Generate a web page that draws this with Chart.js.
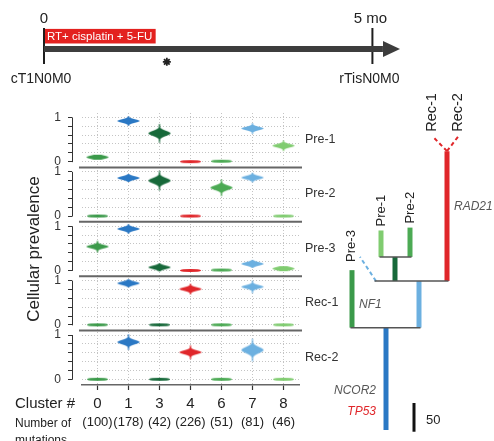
<!DOCTYPE html>
<html>
<head>
<meta charset="utf-8">
<script src="https://cdn.jsdelivr.net/npm/chart.js@4.4.1/dist/chart.umd.min.js"></script>
<style>
html,body{margin:0;padding:0;background:#ffffff;}
#wrap{position:relative;width:494px;height:441px;overflow:hidden;background:#fff;}
#wrap canvas{position:absolute;left:0;top:0;}
</style>
</head>
<body>
<div id="wrap">
<canvas id="timeline" width="494" height="441"></canvas>
<canvas id="violins" width="494" height="441"></canvas>
<canvas id="tree" width="494" height="441"></canvas>
</div>
<script>
// ================= DATA =================
const clusters = ['0', '1', '3', '4', '6', '7', '8'];
const mutationCounts = [100, 178, 42, 226, 51, 81, 46];
const samples = ['Pre-1', 'Pre-2', 'Pre-3', 'Rec-1', 'Rec-2'];
const prevPre1 = [0.10, 0.92, 0.64, 0.00, 0.01, 0.75, 0.36];
const prevPre2 = [0.00, 0.86, 0.80, 0.00, 0.64, 0.87, 0.00];
const prevPre3 = [0.54, 0.94, 0.07, 0.00, 0.01, 0.15, 0.04];
const prevRec1 = [0.00, 0.94, 0.00, 0.81, 0.00, 0.86, 0.00];
const prevRec2 = [0.00, 0.84, 0.00, 0.61, 0.00, 0.66, 0.00];
const prevalenceTicks = [0, 0.2, 0.4, 0.6, 0.8, 1];
const prevalenceTickLabels = ['0', '', '', '', '', '1'];

const timeMarks = [0, 5];                 // months
const timeMarkLabels = ['0', '5 mo'];
const stageLabels = ['cT1N0M0', 'rTisN0M0'];
const treatmentSpan = [0, 1.7];
const treatmentLabel = 'RT+ cisplatin + 5-FU';
const starTimes = [1.87];
const timelineEnd = 5.42;

// phylogeny: branch (cluster) -> parent branch; lengths = mutationCounts
const treeClusters = ['1', '0', '7', '3', '4', '8', '6'];
const treeParents  = [null, '1', '1', '7', '7', '3', '3'];
const sampleLeaves = ['Pre-1', 'Pre-2', 'Pre-3', 'Rec-1', 'Rec-2'];
const sampleLeafCluster = ['8', '6', '7', '4', '4'];
const sampleLeafDashed = [false, false, true, true, true];
const geneNames = ['RAD21', 'NF1', 'NCOR2', 'TP53'];
const geneCluster = ['4', '0', '1', '1'];
const scaleBarLength = 50;

// ================= STYLE / LAYOUT =================
const FONT = "'Liberation Sans', Arial, Helvetica, sans-serif";
Chart.defaults.font.family = FONT;
Chart.defaults.color = '#222';
const clusterColors = ['#3b9a4a', '#2a78c4', '#17693a', '#e0262a', '#4caa54', '#6cb0e0', '#80cc70'];
const violinHeights = [
  [5, 10, 19, 3, 3, 11, 11],
  [3, 8, 20, 3, 17, 10, 3],
  [12, 10, 8, 3, 3, 8, 5],
  [3, 8, 3, 11, 3, 13, 3],
  [3, 16, 3, 14, 3, 23, 3]
];
const treeColumnX = {'1': 56, '0': 22, '7': 89, '3': 65, '4': 117, '8': 51, '6': 80};
const leafLayout = {
  'Pre-1': {dx: 0, dy: -4},
  'Pre-2': {dx: 0, dy: -4},
  'Pre-3': {x0: 46, x1: 30, rise: 42, dx: -9, dy: 5, color: '#6cb0e0', size: 13},
  'Rec-1': {x0: 117, x1: 103, rise: 25, dx: -1, dy: -5, color: '#e0262a', size: 14.5},
  'Rec-2': {x0: 117, x1: 128, rise: 25, dx: 0, dy: -5, color: '#e0262a', size: 14.5}
};
const geneLayout = [
  {frac: 0.57, side: 'right', color: '#555'},
  {frac: 0.40, side: 'right', color: '#555'},
  {frac: 0.38, side: 'left', color: '#555'},
  {frac: 0.18, side: 'left', color: '#e0262a'}
];

function violinCanvas(color, H, W) {
  const c = document.createElement('canvas');
  const w = W + 2, h = Math.ceil(H) + 2;
  c.width = w; c.height = h;
  const g = c.getContext('2d');
  const cx = w / 2, cy = h / 2, half = H / 2;
  const flat = H <= 4;
  const sigma = Math.max(H / 7.5, 1.7);
  const hw = d => {
    const u = Math.abs(d) / half;
    if (flat) return (W / 2) * Math.pow(Math.max(0, 1 - u * u), 0.35);
    const body = (W / 2) * Math.exp(-0.5 * (d / sigma) * (d / sigma));
    const tail = 0.5 + 1.3 * Math.pow(Math.max(0, 1 - u), 1.5);
    return Math.max(body, tail);
  };
  const pts = [];
  for (let d = -half; d <= half + 1e-6; d += 0.25) pts.push([hw(d), d]);
  g.fillStyle = color;
  g.beginPath();
  pts.forEach(([x, d], i) => { if (i === 0) g.moveTo(cx + x, cy + d); else g.lineTo(cx + x, cy + d); });
  for (let i = pts.length - 1; i >= 0; i--) g.lineTo(cx - pts[i][0], cy + pts[i][1]);
  g.closePath();
  g.fill();
  return c;
}

// ================= TIMELINE =================
const timelinePlugin = {
  id: 'timelineDecor',
  beforeDatasetsDraw(chart) {
    const {ctx, scales: {x, y}} = chart;
    const x0 = x.getPixelForValue(treatmentSpan[0]) - 1, x1 = x.getPixelForValue(treatmentSpan[1]);
    const y0 = y.getPixelForValue(0.975), y1 = y.getPixelForValue(0.57);
    ctx.save();
    ctx.fillStyle = '#e3211f';
    ctx.fillRect(x0, y0, x1 - x0, y1 - y0);
    ctx.fillStyle = '#fff';
    ctx.font = '11.5px ' + FONT;
    ctx.textBaseline = 'middle';
    ctx.textAlign = 'left';
    ctx.fillText(treatmentLabel, x0 + 4, (y0 + y1) / 2 + 0.5);
    ctx.restore();
  },
  afterDatasetsDraw(chart) {
    const {ctx, scales: {x, y}} = chart;
    ctx.save();
    const tipX = x.getPixelForValue(timelineEnd), cy = y.getPixelForValue(0.42);
    ctx.fillStyle = '#3d3d3d';
    ctx.beginPath();
    ctx.moveTo(tipX, cy);
    ctx.lineTo(tipX - 17, cy - 8);
    ctx.lineTo(tipX - 17, cy + 8);
    ctx.closePath();
    ctx.fill();
    ctx.fillStyle = '#222';
    ctx.textAlign = 'center';
    ctx.textBaseline = 'middle';
    timeMarks.forEach((t, i) => {
      const px = x.getPixelForValue(t);
      ctx.font = '15px ' + FONT;
      ctx.fillText(timeMarkLabels[i], px + (i === 1 ? -2 : 0), 19);
      ctx.font = '14px ' + FONT;
      ctx.fillText(stageLabels[i], px - 3, 79);
    });
    ctx.restore();
  }
};

new Chart(document.getElementById('timeline'), {
  type: 'scatter',
  data: {
    datasets: [
      {data: [{x: timeMarks[0], y: 0.42}, {x: timelineEnd - 0.26, y: 0.42}], showLine: true,
       borderColor: '#3d3d3d', borderWidth: 6, pointRadius: 0, borderCapStyle: 'butt', clip: false},
      ...timeMarks.map(t => ({data: [{x: t, y: 0}, {x: t, y: 1}], showLine: true,
        borderColor: '#1e1e1e', borderWidth: 2, pointRadius: 0, clip: false})),
      {data: starTimes.map(t => ({x: t, y: 0.06})), pointStyle: 'star', pointRadius: 4,
       borderColor: '#222', borderWidth: 1.8, showLine: false, clip: false}
    ]
  },
  options: {
    responsive: false, animation: false, events: [],
    plugins: {legend: {display: false}, tooltip: {enabled: false}},
    layout: {padding: {left: 44, right: 94, top: 28, bottom: 377}},
    scales: {
      x: {type: 'linear', display: false, min: 0, max: timelineEnd},
      y: {type: 'linear', display: false, min: 0, max: 1}
    }
  },
  plugins: [timelinePlugin]
});

// ================= VIOLIN PANELS =================
const prevalenceSeries = [prevPre1, prevPre2, prevPre3, prevRec1, prevRec2];
const yScales = {};
// left-stacked scales are placed top-down in reverse definition order
for (let k = prevalenceSeries.length - 1; k >= 0; k--) {
  yScales['y' + k] = {
    type: 'linear', position: 'left', stack: 'panels', stackWeight: 1,
    min: -0.13, max: 1.1, bounds: 'data',
    afterBuildTicks: s => { s.ticks = prevalenceTicks.map(v => ({value: v})); },
    afterFit: s => { s.width = 40; },
    ticks: {
      autoSkip: false, padding: 7, color: '#333', font: {size: 12},
      callback: (v) => { const i = prevalenceTicks.indexOf(v); return i >= 0 ? prevalenceTickLabels[i] : ''; }
    },
    grid: {color: '#c4c4c4', lineWidth: 1, tickLength: 14, tickColor: '#333', tickWidth: 1, tickBorderDash: [4, 40]},
    border: {display: false, dash: [1, 2]}
  };
}

const violinPlugin = {
  id: 'violinDecor',
  afterDraw(chart) {
    const {ctx, chartArea: ca, scales} = chart;
    ctx.save();
    for (let k = 0; k < samples.length; k++) {
      const s = scales['y' + k];
      ctx.save();
      ctx.strokeStyle = '#333'; ctx.lineWidth = 1;
      ctx.beginPath();
      ctx.moveTo(s.right - 10 + 0.5, s.getPixelForValue(0) + 0.5);
      ctx.lineTo(s.right - 10 + 0.5, s.getPixelForValue(1));
      ctx.stroke();
      ctx.restore();
      ctx.fillStyle = '#333';
      ctx.font = '12.5px ' + FONT;
      ctx.textAlign = 'left';
      ctx.textBaseline = 'middle';
      ctx.fillText(samples[k], ca.right + 6, s.getPixelForValue(0.5));
    }
    ctx.strokeStyle = '#666';
    ctx.lineWidth = 2;
    const stacked = samples.map((_, k) => scales['y' + k]).sort((a, b) => a.top - b.top);
    stacked.slice(0, -1).forEach(s => {
      ctx.beginPath();
      ctx.moveTo(ca.left - 3, s.bottom);
      ctx.lineTo(ca.right + 3, s.bottom);
      ctx.stroke();
    });
    ctx.save();
    ctx.translate(34, (ca.top + ca.bottom) / 2);
    ctx.rotate(-Math.PI / 2);
    ctx.fillStyle = '#222';
    ctx.font = '17px ' + FONT;
    ctx.textAlign = 'center';
    ctx.textBaseline = 'middle';
    ctx.fillText('Cellular prevalence', 0, 0);
    ctx.restore();
    const xs = scales.x;
    ctx.fillStyle = '#222';
    ctx.textBaseline = 'middle';
    ctx.textAlign = 'left';
    ctx.font = '15px ' + FONT;
    ctx.fillText('Cluster #', 15, 404);
    ctx.font = '12px ' + FONT;
    ctx.fillText('Number of', 15, 424);
    ctx.textBaseline = 'alphabetic';
    ctx.fillText('mutations', 15, 444);
    ctx.textBaseline = 'middle';
    ctx.textAlign = 'center';
    ctx.font = '13px ' + FONT;
    mutationCounts.forEach((n, i) => ctx.fillText('(' + n + ')', xs.getPixelForTick(i), 422));
    ctx.restore();
  }
};

new Chart(document.getElementById('violins'), {
  type: 'line',
  data: {
    labels: clusters,
    datasets: prevalenceSeries.map((vals, k) => ({
      label: samples[k], data: vals, yAxisID: 'y' + k, xAxisID: 'x',
      showLine: false, pointRadius: 1, pointHoverRadius: 1,
      pointStyle: vals.map((v, i) => violinCanvas(clusterColors[i], violinHeights[k][i], violinHeights[k][i] <= 4 ? 21 : 22))
    }))
  },
  options: {
    responsive: false, animation: false, events: [],
    plugins: {legend: {display: false}, tooltip: {enabled: false}},
    layout: {padding: {left: 42, right: 195, top: 113, bottom: 0}},
    scales: Object.assign({
      x: {
        type: 'category', position: 'bottom', offset: true,
        afterFit: s => { s.height = 56; },
        ticks: {color: '#222', font: {size: 15}, padding: 5, autoSkip: false, maxRotation: 0},
        grid: {offset: false, color: '#c4c4c4', lineWidth: 1, tickLength: 5, tickColor: '#333', tickWidth: 1.2},
        border: {display: true, color: '#666', width: 1.5, dash: [1, 2]}
      }
    }, yScales)
  },
  plugins: [violinPlugin]
});

// ================= TREE =================
const tipOf = {}, baseOf = {};
treeClusters.forEach((c, i) => {
  const p = treeParents[i];
  baseOf[c] = p ? tipOf[p] : 0;
  tipOf[c] = baseOf[c] + mutationCounts[clusters.indexOf(c)];
});
const treeDatasets = [];
treeClusters.forEach(c => {
  const kids = treeClusters.filter((_, i) => treeParents[i] === c).map(k => treeColumnX[k]);
  sampleLeaves.forEach((s, i) => { if (sampleLeafDashed[i] && sampleLeafCluster[i] === c && leafLayout[s].x0 !== treeColumnX[c]) kids.push(leafLayout[s].x0); });
  if (kids.length > 1) {
    treeDatasets.push({data: [{x: Math.min(...kids) - 1.5, y: tipOf[c]}, {x: Math.max(...kids) + 1.5, y: tipOf[c]}],
      borderColor: '#555', borderWidth: 1.5});
  }
});
sampleLeaves.forEach((s, i) => {
  if (!sampleLeafDashed[i]) return;
  const L = leafLayout[s], c = sampleLeafCluster[i];
  treeDatasets.push({data: [{x: L.x0, y: tipOf[c]}, {x: L.x1, y: tipOf[c] + L.rise}],
    borderColor: L.color, borderWidth: 2, borderDash: [4, 3]});
});
treeClusters.forEach(c => {
  treeDatasets.push({data: [{x: treeColumnX[c], y: baseOf[c]}, {x: treeColumnX[c], y: tipOf[c]}],
    borderColor: clusterColors[clusters.indexOf(c)], borderWidth: 5});
});
treeDatasets.push({data: [{x: 84, y: -3}, {x: 84, y: -3 + scaleBarLength}], borderColor: '#111', borderWidth: 3});
treeDatasets.forEach(d => Object.assign(d, {showLine: true, pointRadius: 0, borderCapStyle: 'butt', clip: false}));

const treePlugin = {
  id: 'treeDecor',
  afterDatasetsDraw(chart) {
    const {ctx, scales: {x, y}} = chart;
    ctx.save();
    ctx.fillStyle = '#222';
    sampleLeaves.forEach((s, i) => {
      const L = leafLayout[s], c = sampleLeafCluster[i];
      let px, py;
      if (sampleLeafDashed[i]) { px = x.getPixelForValue(L.x1); py = y.getPixelForValue(tipOf[c] + L.rise); }
      else { px = x.getPixelForValue(treeColumnX[c]); py = y.getPixelForValue(tipOf[c]); }
      ctx.save();
      ctx.translate(px + L.dx, py + L.dy);
      ctx.rotate(-Math.PI / 2);
      ctx.font = (L.size || 13) + 'px ' + FONT;
      ctx.textAlign = 'left';
      ctx.textBaseline = 'middle';
      ctx.fillText(s, 0, 0);
      ctx.restore();
    });
    geneNames.forEach((g, i) => {
      const c = geneCluster[i], G = geneLayout[i];
      const py = y.getPixelForValue(baseOf[c] + G.frac * (tipOf[c] - baseOf[c]));
      const bx = x.getPixelForValue(treeColumnX[c]);
      ctx.font = 'italic 12px ' + FONT;
      ctx.fillStyle = G.color;
      ctx.textBaseline = 'middle';
      if (G.side === 'right') { ctx.textAlign = 'left'; ctx.fillText(g, bx + 7, py); }
      else { ctx.textAlign = 'right'; ctx.fillText(g, bx - 10, py); }
    });
    ctx.fillStyle = '#222';
    ctx.font = '13px ' + FONT;
    ctx.textAlign = 'left';
    ctx.textBaseline = 'middle';
    ctx.fillText(String(scaleBarLength), x.getPixelForValue(84) + 12, y.getPixelForValue(-3 + scaleBarLength * 0.4));
    ctx.restore();
  }
};

new Chart(document.getElementById('tree'), {
  type: 'scatter',
  data: {datasets: treeDatasets},
  options: {
    responsive: false, animation: false, events: [],
    plugins: {legend: {display: false}, tooltip: {enabled: false}},
    layout: {padding: {left: 330, right: 0, top: 131, bottom: 5.25}},
    scales: {
      x: {type: 'linear', display: false, min: 0, max: 164},
      y: {type: 'linear', display: false, min: -10, max: 520}
    }
  },
  plugins: [treePlugin]
});
</script>
</body>
</html>
